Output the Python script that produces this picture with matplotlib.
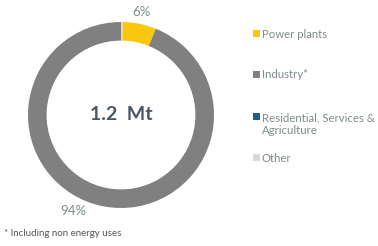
import matplotlib.pyplot as plt
from matplotlib.patches import Rectangle

# shares of the 1.2 Mt total (clockwise from top)
sectors = ["Other", "Power plants", "Industry*", "Residential, Services &\nAgriculture"]
shares = [0.3, 5.8, 93.9, 0.0]
colors = ["#d9d9d9", "#f9c80e", "#808080", "#1f5f8e"]

legend_order = ["Power plants", "Industry*", "Residential, Services &\nAgriculture", "Other"]
total_label = "1.2  Mt"
footnote = "* Including non energy uses"

plt.rcParams['font.family'] = ['Lato', 'DejaVu Sans']

W, H = 378, 246
fig = plt.figure(figsize=(W / 100, H / 100), dpi=100)
fig.patch.set_facecolor("white")

cx, cy, r = 121, 115, 93
ax = fig.add_axes([(cx - r) / W, (H - cy - r) / H, 2 * r / W, 2 * r / H])
ax.pie(shares, colors=colors, startangle=90, counterclock=False,
       radius=1.0, wedgeprops=dict(width=0.2, edgecolor="none"))
ax.set_xlim(-1, 1)
ax.set_ylim(-1, 1)
ax.set_aspect("equal")
ax.axis("off")

ax.text(0, 0, total_label, ha="center", va="center", fontsize=14,
        fontweight="bold", color="#4b5661")

lab_col = "#7f8c8d"
fig.text(141 / W, 1 - 12 / H, "6%", ha="center", va="center", fontsize=9.5, color=lab_col)
fig.text(73 / W, 1 - 211 / H, "94%", ha="center", va="center", fontsize=9.5, color=lab_col)
fig.text(4 / W, 1 - 234 / H, footnote, ha="left", va="center", fontsize=7, color="#555555")

# legend
ys = [34, 75, 124, 158]
for name, y in zip(legend_order, ys):
    c = colors[sectors.index(name)]
    first_y = y if "\n" not in name else y - 7
    fig.patches.append(Rectangle((253 / W, 1 - (first_y + 3) / H), 7 / W, 7 / H,
                                 transform=fig.transFigure, facecolor=c, edgecolor="none"))
    fig.text(262 / W, 1 - y / H, name, ha="left", va="center", fontsize=8.2,
             color=lab_col, linespacing=1.15)

fig.savefig("out.png", dpi=100, facecolor="white")
